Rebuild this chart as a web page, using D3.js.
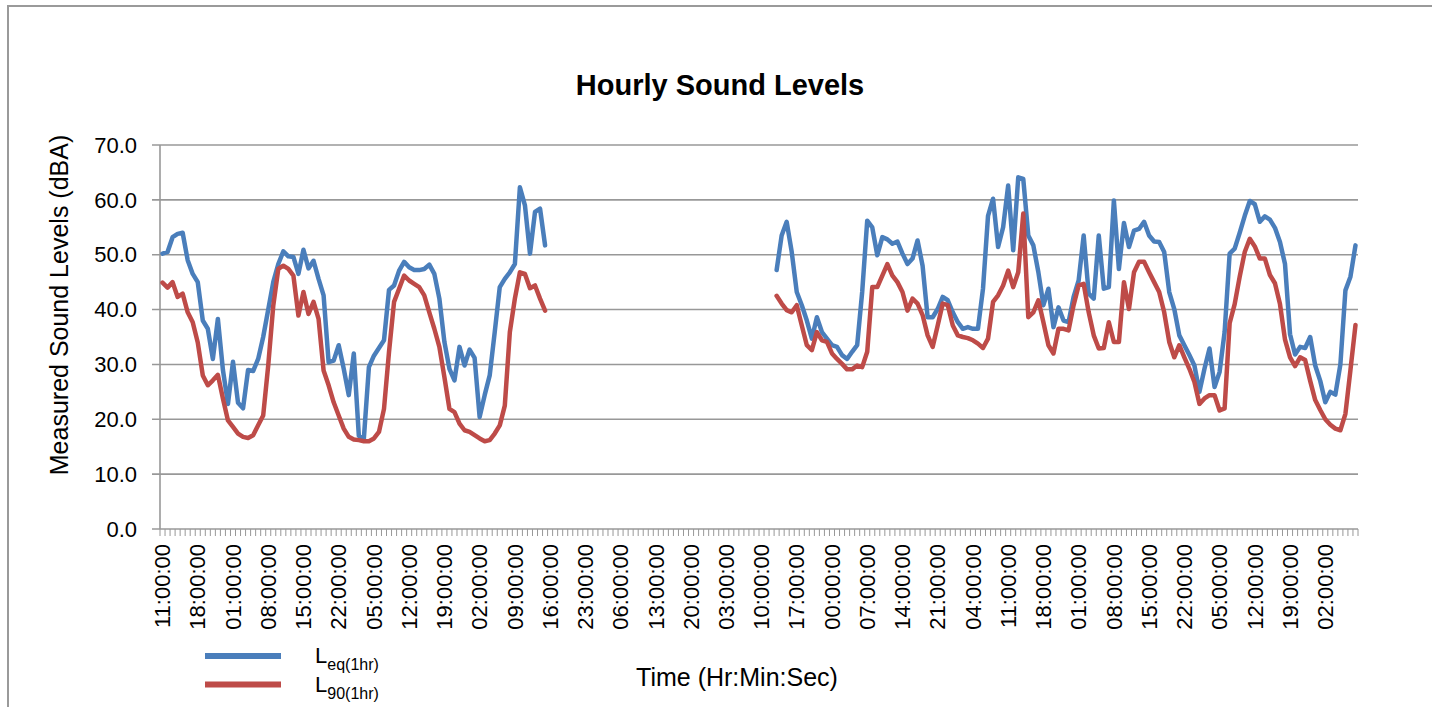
<!DOCTYPE html>
<html>
<head>
<meta charset="utf-8">
<script src="https://cdn.jsdelivr.net/npm/d3@7"></script>
<style>
  body { margin: 0; background: #fff; }
  svg text { font-family: "Liberation Sans", Arial, sans-serif; fill: #000; }
</style>
</head>
<body>
<div id="chart"></div>
<script>
// hourly categories, labelled every 7 hours
var nHours = 238;
var tickLabels = ["11:00:00","18:00:00","01:00:00","08:00:00","15:00:00","22:00:00","05:00:00",
  "12:00:00","19:00:00","02:00:00","09:00:00","16:00:00","23:00:00","06:00:00","13:00:00",
  "20:00:00","03:00:00","10:00:00","17:00:00","00:00:00","07:00:00","14:00:00","21:00:00",
  "04:00:00","11:00:00","18:00:00","01:00:00","08:00:00","15:00:00","22:00:00","05:00:00",
  "12:00:00","19:00:00","02:00:00"];
var yTicks = [0, 10, 20, 30, 40, 50, 60, 70];

// first measurement period (hours 0-76)
var leqPeriod1 = [50.2,50.5,53.2,53.8,54.0,49.0,46.5,45.0,38.0,36.5,31.0,38.3,29.0,22.8,30.5,23.0,
  22.0,29.0,28.8,31.0,35.0,40.0,45.0,48.3,50.6,49.7,49.6,46.5,50.9,47.5,48.9,45.6,42.6,30.4,30.7,
  33.5,29.2,24.4,32.0,17.0,16.5,29.5,31.6,33.0,34.4,43.6,44.4,47.1,48.7,47.7,47.2,47.2,47.4,48.2,
  46.5,42.0,34.1,29.2,27.1,33.2,29.8,32.7,31.2,20.4,24.4,28.0,35.9,44.1,45.6,46.8,48.3,62.3,59.0,
  50.2,57.8,58.4,51.7];
var l90Period1 = [44.9,44.0,45.0,42.3,42.9,39.5,37.7,34.0,28.0,26.2,27.1,28.1,23.8,19.8,18.6,17.4,
  16.8,16.6,17.1,18.9,20.7,29.8,40.7,47.4,48.0,47.4,46.2,38.9,43.2,39.2,41.4,38.3,28.9,26.2,23.1,
  20.7,18.3,16.8,16.3,16.2,16.0,16.0,16.5,17.7,21.9,32.3,41.4,43.8,46.2,45.3,44.7,44.1,42.6,39.5,
  36.5,33.2,27.7,21.9,21.3,19.2,18.0,17.7,17.1,16.5,16.0,16.2,17.4,18.9,22.5,35.9,42.0,46.8,46.5,
  43.9,44.4,42.0,39.8];

// hours with no readings between the two periods
var gapHours = 45;

// second measurement period (hours 122-237)
var leqPeriod2 = [47.2,53.5,56.0,50.5,43.2,40.8,38.0,34.7,38.6,35.9,34.7,33.5,33.2,31.7,31.0,32.3,
  33.5,43.2,56.2,55.0,49.9,53.2,52.8,52.0,52.4,50.2,48.3,49.3,52.6,48.0,38.6,38.6,40.1,42.3,41.7,
  39.5,37.7,36.5,36.8,36.5,36.5,43.8,57.1,60.2,51.4,55.0,62.6,50.8,64.1,63.8,53.5,51.7,46.8,40.8,
  43.8,36.8,40.4,38.0,37.7,42.3,45.3,53.5,42.9,42.0,53.5,43.8,44.1,59.9,47.4,55.8,51.4,54.4,54.7,
  56.0,53.5,52.4,52.3,50.5,43.2,40.1,35.3,33.5,31.7,29.8,25.0,29.2,32.9,25.9,28.6,35.9,50.2,51.1,
  54.0,57.1,59.8,59.2,56.0,57.0,56.4,54.9,52.3,48.3,35.5,31.8,33.2,33.0,35.0,29.8,27.0,23.1,25.0,
  24.5,30.0,43.5,46.0,51.7];
var l90Period2 = [42.5,41.1,39.9,39.5,40.8,37.1,33.5,32.6,35.9,34.4,34.1,32.0,31.0,30.1,29.1,29.1,
  29.8,29.5,32.3,44.1,44.1,46.2,48.3,46.2,45.0,43.2,39.8,42.0,41.1,39.0,35.3,33.2,37.1,41.1,40.8,
  37.1,35.3,35.0,34.8,34.4,33.8,33.0,34.7,41.4,42.6,44.4,47.1,44.1,46.8,57.5,38.6,39.5,41.7,37.7,
  33.5,32.0,36.5,36.5,36.2,40.8,44.4,44.7,39.5,35.3,32.9,33.0,37.7,34.1,34.1,45.0,40.1,46.8,48.7,
  48.7,46.8,45.0,43.2,39.5,34.1,31.3,33.5,31.3,29.2,26.8,22.8,23.8,24.4,24.4,21.6,22.0,37.5,41.0,
  46.0,50.5,52.9,51.5,49.3,49.3,46.3,44.8,41.0,34.5,31.3,29.7,31.3,30.8,27.0,23.5,21.7,20.0,19.0,
  18.3,18.0,21.0,29.0,37.2];

var gap = new Array(gapHours).fill(null);
var leq = leqPeriod1.concat(gap, leqPeriod2);
var l90 = l90Period1.concat(gap, l90Period2);

var series = [
  {name: "eq(1hr)", values: leq, color: "#4A7EBB"},
  {name: "90(1hr)", values: l90, color: "#BE4B48"}
];

var width = 1432, height = 707;
var plot = {left: 160, right: 1358, top: 145, bottom: 529};

var svg = d3.select("#chart").append("svg")
  .attr("width", width)
  .attr("height", height);

// chart frame
svg.append("rect")
  .attr("x", 8).attr("y", 6)
  .attr("width", width).attr("height", height)
  .style("fill", "none")
  .style("stroke", "#9a9a9a")
  .style("stroke-width", 2);

var x = d3.scaleBand()
  .domain(d3.range(nHours))
  .range([plot.left, plot.right]);

var y = d3.scaleLinear()
  .domain([0, 70])
  .range([plot.bottom, plot.top]);

var cx = function(i) { return x(i) + x.bandwidth() / 2; };

// gridlines + y labels
svg.selectAll(".grid")
  .data(yTicks)
  .enter().append("line")
  .attr("x1", plot.left - 8)
  .attr("x2", plot.right)
  .attr("y1", function(d){ return y(d); })
  .attr("y2", function(d){ return y(d); })
  .style("stroke", "#989898")
  .style("stroke-width", 1.6);

svg.selectAll(".ylab")
  .data(yTicks)
  .enter().append("text")
  .attr("x", 137)
  .attr("y", function(d){ return y(d); })
  .attr("dy", "0.35em")
  .style("text-anchor", "end")
  .style("font-size", "22px")
  .text(function(d){ return d.toFixed(1); });

// y axis line
svg.append("line")
  .attr("x1", plot.left).attr("x2", plot.left)
  .attr("y1", plot.top).attr("y2", plot.bottom)
  .style("stroke", "#989898")
  .style("stroke-width", 1.6);

// x axis minor ticks at category boundaries
svg.selectAll(".xtick")
  .data(d3.range(nHours + 1))
  .enter().append("line")
  .attr("x1", function(i){ return plot.left + i * x.bandwidth(); })
  .attr("x2", function(i){ return plot.left + i * x.bandwidth(); })
  .attr("y1", plot.bottom)
  .attr("y2", plot.bottom + 7)
  .style("stroke", "#989898")
  .style("stroke-width", 1);

svg.selectAll(".xlab")
  .data(tickLabels)
  .enter().append("text")
  .attr("transform", function(d, k){
    return "translate(" + cx(k * 7) + "," + 544 + ") rotate(-90)";
  })
  .attr("dy", "0.35em")
  .style("text-anchor", "end")
  .style("font-size", "22px")
  .text(function(d){ return d; });

// series lines
var line = d3.line()
  .defined(function(d){ return d != null; })
  .x(function(d, i){ return cx(i); })
  .y(function(d){ return y(d); });

svg.selectAll(".series")
  .data(series)
  .enter().append("path")
  .attr("d", function(s){ return line(s.values); })
  .style("fill", "none")
  .style("stroke", function(s){ return s.color; })
  .style("stroke-width", 4.5)
  .style("stroke-linejoin", "round")
  .style("stroke-linecap", "round");

// titles
svg.append("text")
  .attr("x", 720).attr("y", 95)
  .style("text-anchor", "middle")
  .style("font-size", "29px")
  .style("font-weight", "bold")
  .text("Hourly Sound Levels");

svg.append("text")
  .attr("transform", "translate(68,305) rotate(-90)")
  .style("text-anchor", "middle")
  .style("font-size", "25px")
  .text("Measured Sound Levels (dBA)");

svg.append("text")
  .attr("x", 737).attr("y", 686)
  .style("text-anchor", "middle")
  .style("font-size", "25px")
  .text("Time (Hr:Min:Sec)");

// legend
var legend = svg.selectAll(".legend")
  .data(series)
  .enter().append("g")
  .attr("transform", function(d, i){ return "translate(0," + (656 + i * 28.5) + ")"; });

legend.append("line")
  .attr("x1", 205).attr("x2", 281)
  .style("stroke", function(d){ return d.color; })
  .style("stroke-width", 6);

var lt = legend.append("text")
  .attr("x", 315).attr("y", 7)
  .style("font-size", "22px");
lt.append("tspan").text("L");
lt.append("tspan")
  .attr("dy", 7)
  .style("font-size", "16px")
  .text(function(d){ return d.name; });
</script>
</body>
</html>
